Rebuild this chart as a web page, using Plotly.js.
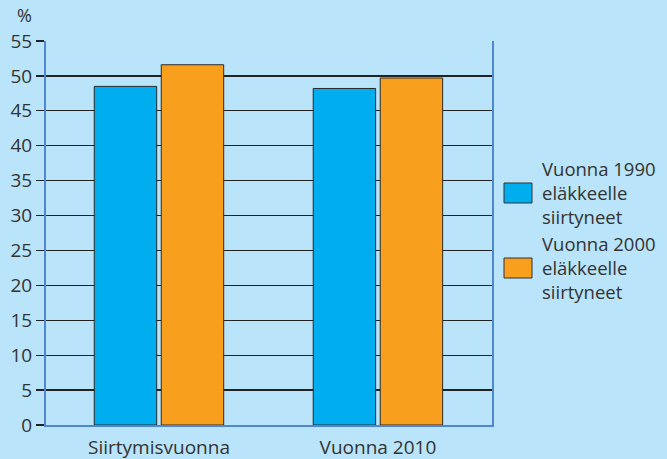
<!DOCTYPE html>
<html>
<head>
<meta charset="utf-8">
<script src="https://cdn.plot.ly/plotly-3.0.1.min.js"></script>
<style>html,body{margin:0;padding:0;background:#b9e4f9;}#chart{width:667px;height:459px;}</style>
</head>
<body>
<div id="chart"></div>
<script>
var categories = ["Siirtymisvuonna", "Vuonna 2010"];
var series1990 = [48.5, 48.2];
var series2000 = [51.6, 49.7];
var seriesNameLines = [["Vuonna 1990", "eläkkeelle", "siirtyneet"], ["Vuonna 2000", "eläkkeelle", "siirtyneet"]];
var yTicks = [0,5,10,15,20,25,30,35,40,45,50,55];

var colors = ["#00aeef", "#f89f1e"];
var font = "Open Sans, Noto Sans, sans-serif";
var bg = "#b9e4f9";
var txt = "#333";

var traces = [
  {type:"bar", x:categories, y:series1990, name:seriesNameLines[0].join(" "), marker:{color:colors[0], line:{color:"#2a2a2a", width:1}}, showlegend:false, hoverinfo:"none"},
  {type:"bar", x:categories, y:series2000, name:seriesNameLines[1].join(" "), marker:{color:colors[1], line:{color:"#2a2a2a", width:1}}, showlegend:false, hoverinfo:"none"}
];

var plotL = 46, plotR = 492, plotT = 41, plotB = 425;
function px2x(p){return (p-plotL)/(plotR-plotL);}
function py2y(p){return (plotB-p)/(plotB-plotT);}
var shapes = [];
var annotations = [{xref:"paper", yref:"paper", x:px2x(34), y:py2y(15), xanchor:"right", yanchor:"middle", text:"%", showarrow:false, font:{family:font, size:18, color:txt}}];
var legendCentersPx = [193, 268];
for (var i=0;i<2;i++){
  var c = legendCentersPx[i];
  shapes.push({type:"rect", xref:"paper", yref:"paper", x0:px2x(504), x1:px2x(532), y0:py2y(c-10), y1:py2y(c+10), fillcolor:colors[i], line:{color:"#333", width:1}});
  annotations.push({xref:"paper", yref:"paper", x:px2x(540), y:py2y(c-1), xanchor:"left", yanchor:"middle", align:"left", text:seriesNameLines[i].join("<br>"), showarrow:false, font:{family:font, size:18.5, color:txt}});
}

var layout = {
  width:667, height:459,
  paper_bgcolor:bg, plot_bgcolor:bg,
  margin:{l:plotL, r:667-plotR, t:plotT, b:459-plotB, pad:0},
  barmode:"group", bargap:0.388, bargroupgap:0.068,
  font:{family:font, size:19, color:txt},
  xaxis:{type:"category", range:[-0.516, 1.521], showline:true, linecolor:"#4f86d6", linewidth:2, ticks:"", showgrid:false, ticklabelstandoff:4, tickfont:{family:font, size:19, color:txt}, fixedrange:true},
  yaxis:{range:[0,55], tickvals:yTicks, ticktext:yTicks.map(String), ticks:"outside", ticklen:8, tickwidth:1.2, tickcolor:"#222", showgrid:true, gridcolor:"#222", gridwidth:1.2, zeroline:false, showline:true, mirror:true, linecolor:"#4f86d6", linewidth:2, tickfont:{family:font, size:19, color:txt}, fixedrange:true},
  shapes:shapes,
  annotations:annotations,
  showlegend:false
};
Plotly.newPlot("chart", traces, layout, {displayModeBar:false, staticPlot:true});
</script>
</body>
</html>
